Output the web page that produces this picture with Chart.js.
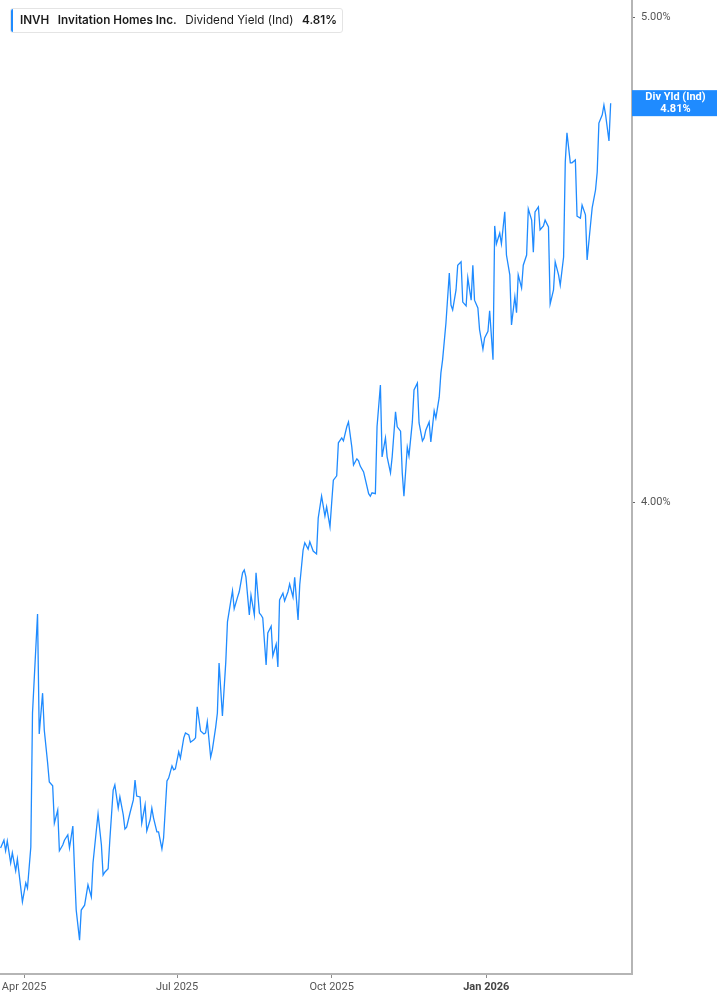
<!DOCTYPE html>
<html>
<head>
<meta charset="utf-8">
<title>INVH Dividend Yield</title>
<script src="https://cdn.jsdelivr.net/npm/chart.js@4.4.1/dist/chart.umd.min.js"></script>
<style>
    html, body { margin: 0; padding: 0; background: #fff; }
    #wrap { position: relative; width: 717px; height: 1005px; }
    #legend {
        position: absolute; left: 10px; top: 8px; width: 331px; height: 23px;
        box-sizing: content-box; padding: 0;
        border: 1px solid #e4e4e4; border-radius: 3px; background: #fff;
        font-family: Inter, "Noto Sans", sans-serif; font-size: 11.7px; color: #1c1c1c;
        line-height: 23px; white-space: nowrap; overflow: hidden;
        display: flex; gap: 8.5px; padding-left: 9px; width: 322px;
    }
    #legend::before {
        content: ''; position: absolute; left: -1px; top: -1px; bottom: -1px; width: 3px;
        background: #1f8bff; border-radius: 3px 0 0 3px;
    }
    .b { font-weight: 600; }
</style>
</head>
<body>
<div id="wrap">
    <canvas id="yieldChart"></canvas>
    <div id="legend">
        <span class="b" id="lgTicker"></span>
        <span class="b" id="lgName"></span>
        <span id="lgMetric"></span>
        <span class="b" id="lgValue"></span>
    </div>
</div>
<script>
// Series: trading dates and indicated dividend yield (%)
const dates = [
    '2025-03-18','2025-03-20','2025-03-21','2025-03-22','2025-03-24','2025-03-25','2025-03-27','2025-03-28','2025-03-31',
    '2025-04-02','2025-04-03','2025-04-05','2025-04-06','2025-04-09','2025-04-10','2025-04-12','2025-04-13','2025-04-15',
    '2025-04-16','2025-04-18','2025-04-19','2025-04-21','2025-04-22','2025-04-24','2025-04-25','2025-04-27','2025-04-28',
    '2025-04-30','2025-05-01','2025-05-02','2025-05-04','2025-05-05','2025-05-07','2025-05-09','2025-05-11','2025-05-12',
    '2025-05-14','2025-05-15','2025-05-17','2025-05-18','2025-05-19','2025-05-21','2025-05-22','2025-05-24','2025-05-25',
    '2025-05-27','2025-05-28','2025-05-30','2025-05-31','2025-06-01','2025-06-03','2025-06-05','2025-06-06','2025-06-07',
    '2025-06-09','2025-06-10','2025-06-12','2025-06-13','2025-06-15','2025-06-16','2025-06-17','2025-06-19','2025-06-20',
    '2025-06-22','2025-06-23','2025-06-25','2025-06-26','2025-06-28','2025-06-29','2025-06-30','2025-07-02','2025-07-03',
    '2025-07-05','2025-07-06','2025-07-08','2025-07-09','2025-07-11','2025-07-12','2025-07-13','2025-07-15','2025-07-17',
    '2025-07-18','2025-07-19','2025-07-21','2025-07-22','2025-07-24','2025-07-25','2025-07-26','2025-07-28','2025-07-30',
    '2025-07-31','2025-08-02','2025-08-03','2025-08-04','2025-08-06','2025-08-07','2025-08-09','2025-08-10','2025-08-11',
    '2025-08-13','2025-08-14','2025-08-16','2025-08-17','2025-08-19','2025-08-20','2025-08-21','2025-08-23','2025-08-24',
    '2025-08-26','2025-08-27','2025-08-29','2025-08-30','2025-08-31','2025-09-02','2025-09-03','2025-09-05','2025-09-06',
    '2025-09-08','2025-09-09','2025-09-11','2025-09-12','2025-09-14','2025-09-15','2025-09-17','2025-09-18','2025-09-20',
    '2025-09-22','2025-09-23','2025-09-25','2025-09-27','2025-09-28','2025-09-30','2025-10-01','2025-10-02','2025-10-04',
    '2025-10-05','2025-10-07','2025-10-08','2025-10-10','2025-10-11','2025-10-13','2025-10-14','2025-10-16','2025-10-17',
    '2025-10-18','2025-10-20','2025-10-21','2025-10-23','2025-10-24','2025-10-25','2025-10-27','2025-10-28','2025-10-30',
    '2025-10-31','2025-11-02','2025-11-03','2025-11-05','2025-11-06','2025-11-08','2025-11-09','2025-11-11','2025-11-12',
    '2025-11-13','2025-11-15','2025-11-16','2025-11-18','2025-11-19','2025-11-21','2025-11-22','2025-11-24','2025-11-25',
    '2025-11-26','2025-11-28','2025-11-29','2025-12-01','2025-12-02','2025-12-04','2025-12-05','2025-12-06','2025-12-08',
    '2025-12-10','2025-12-11','2025-12-12','2025-12-14','2025-12-15','2025-12-17','2025-12-18','2025-12-20','2025-12-21',
    '2025-12-23','2025-12-24','2025-12-25','2025-12-27','2025-12-28','2025-12-30','2025-12-31','2026-01-02','2026-01-03',
    '2026-01-05','2026-01-06','2026-01-07','2026-01-09','2026-01-10','2026-01-12','2026-01-13','2026-01-15','2026-01-16',
    '2026-01-18','2026-01-19','2026-01-20','2026-01-22','2026-01-23','2026-01-25','2026-01-26','2026-01-28','2026-01-29',
    '2026-01-30','2026-02-01','2026-02-02','2026-02-04','2026-02-05','2026-02-07','2026-02-08','2026-02-10','2026-02-11',
    '2026-02-13','2026-02-14','2026-02-16','2026-02-17','2026-02-18','2026-02-20','2026-02-21','2026-02-23','2026-02-24',
    '2026-02-26','2026-02-27','2026-03-01','2026-03-02','2026-03-04','2026-03-05','2026-03-07','2026-03-08','2026-03-09',
    '2026-03-11','2026-03-12','2026-03-13','2026-03-15','2026-03-16'
];

const yieldPct = [
    3.288, 3.304, 3.282, 3.302, 3.257, 3.278, 3.241, 3.265, 3.177,
    3.216, 3.205, 3.290, 3.566, 3.770, 3.523, 3.607, 3.531, 3.463,
    3.424, 3.416, 3.339, 3.366, 3.282, 3.294, 3.304, 3.315, 3.288,
    3.333, 3.243, 3.160, 3.098, 3.160, 3.170, 3.212, 3.187, 3.257,
    3.325, 3.358, 3.294, 3.232, 3.238, 3.245, 3.304, 3.407, 3.418,
    3.370, 3.393, 3.356, 3.327, 3.331, 3.360, 3.387, 3.428, 3.395,
    3.393, 3.339, 3.377, 3.323, 3.346, 3.370, 3.350, 3.321, 3.321,
    3.286, 3.309, 3.426, 3.432, 3.457, 3.449, 3.451, 3.486, 3.473,
    3.515, 3.525, 3.521, 3.506, 3.511, 3.515, 3.579, 3.529, 3.523,
    3.525, 3.548, 3.475, 3.490, 3.537, 3.566, 3.669, 3.560, 3.671,
    3.754, 3.797, 3.818, 3.781, 3.805, 3.816, 3.855, 3.861, 3.846,
    3.768, 3.809, 3.768, 3.855, 3.772, 3.768, 3.762, 3.665, 3.731,
    3.745, 3.684, 3.708, 3.661, 3.799, 3.813, 3.797, 3.816, 3.832,
    3.805, 3.846, 3.758, 3.830, 3.902, 3.917, 3.904, 3.919, 3.900,
    3.894, 3.968, 4.013, 3.972, 3.991, 3.950, 3.999, 4.046, 4.055,
    4.123, 4.133, 4.127, 4.156, 4.166, 4.114, 4.077, 4.090, 4.086,
    4.075, 4.063, 4.048, 4.018, 4.013, 4.020, 4.018, 4.156, 4.242,
    4.094, 4.133, 4.094, 4.061, 4.094, 4.187, 4.156, 4.147, 4.061,
    4.013, 4.114, 4.096, 4.166, 4.232, 4.246, 4.164, 4.127, 4.133,
    4.149, 4.166, 4.125, 4.189, 4.174, 4.217, 4.267, 4.294, 4.370,
    4.473, 4.407, 4.397, 4.438, 4.489, 4.496, 4.413, 4.405, 4.463,
    4.417, 4.489, 4.417, 4.401, 4.356, 4.316, 4.339, 4.353, 4.395,
    4.294, 4.570, 4.533, 4.555, 4.533, 4.599, 4.510, 4.469, 4.366,
    4.424, 4.391, 4.469, 4.442, 4.489, 4.510, 4.605, 4.582, 4.516,
    4.599, 4.609, 4.562, 4.570, 4.582, 4.568, 4.409, 4.438, 4.496,
    4.469, 4.448, 4.506, 4.702, 4.762, 4.700, 4.700, 4.706, 4.590,
    4.586, 4.613, 4.593, 4.500, 4.572, 4.607, 4.644, 4.681, 4.782,
    4.799, 4.819, 4.799, 4.745, 4.823
];

// Axis ticks
const xTickDates = ['2025-04-01', '2025-07-01', '2025-10-01', '2026-01-01'];
const xTickLabels = ['Apr 2025', 'Jul 2025', 'Oct 2025', 'Jan 2026'];
const yTickValues = [4, 5];

// Header and end tag texts
const legendTexts = ['INVH', 'Invitation Homes Inc.', 'Dividend Yield (Ind)', '4.81%'];
const tagLines = ['Div Yld (Ind)', '4.81%'];

const LINE_COLOR = '#1f8bff';
const AXIS_COLOR = '#b5b5b5';
const TEXT_COLOR = '#555';
const ORIGIN = Date.UTC(2025, 3, 1);

// days since 1 Apr 2025
function dayNum(s) {
    const [y, m, d] = s.split('-').map(Number);
    return (Date.UTC(y, m - 1, d) - ORIGIN) / 864e5;
}

function fillLegend() {
    ['lgTicker', 'lgName', 'lgMetric', 'lgValue'].forEach((id, i) => {
        document.getElementById(id).textContent = legendTexts[i];
    });
}

// blue box on the right axis holding the latest value
const lastValueTag = {
    id: 'lastValueTag',
    afterDraw(chart) {
        const pts = chart.getDatasetMeta(0).data;
        const pt = pts[pts.length - 1];
        const { ctx, chartArea } = chart;
        const x0 = chartArea.right;
        const w = chart.width - x0;
        ctx.save();
        ctx.fillStyle = LINE_COLOR;
        ctx.fillRect(x0, pt.y - 13, w, 26);
        ctx.fillStyle = '#fff';
        ctx.font = 'bold 11px Roboto';
        ctx.textAlign = 'center';
        ctx.textBaseline = 'middle';
        ctx.fillText(tagLines[0], x0 + w / 2 + 1, pt.y - 5.5);
        ctx.fillText(tagLines[1], x0 + w / 2 + 1, pt.y + 6);
        ctx.restore();
    }
};

function initChart() {
    const ctx = document.getElementById('yieldChart').getContext('2d');
    const points = dates.map((d, i) => ({ x: dayNum(d), y: yieldPct[i] }));

    new Chart(ctx, {
        type: 'line',
        data: {
            datasets: [{
                label: legendTexts[2],
                data: points,
                borderColor: LINE_COLOR,
                borderWidth: 1.3,
                pointRadius: 0,
                tension: 0,
                fill: false
            }]
        },
        options: {
            responsive: true,
            maintainAspectRatio: false,
            animation: false,
            layout: { padding: 0 },
            plugins: {
                legend: { display: false },
                tooltip: { enabled: false }
            },
            scales: {
                x: {
                    type: 'linear',
                    min: -14.34,
                    max: 361.7,
                    grid: { drawOnChartArea: false, drawTicks: true, tickLength: 4, color: '#8c8c8c' },
                    border: { display: true, color: AXIS_COLOR, width: 2 },
                    afterBuildTicks: axis => {
                        axis.ticks = xTickDates.map(d => ({ value: dayNum(d) }));
                    },
                    afterFit: axis => {
                        axis.height = 31;
                        axis.paddingLeft = 0;
                        axis.paddingRight = 0;
                    },
                    ticks: {
                        autoSkip: false,
                        maxRotation: 0,
                        padding: 3,
                        callback: (v, i) => xTickLabels[i],
                        color: c => (c.index === 3 ? '#444' : TEXT_COLOR),
                        font: c => ({ family: 'Roboto', size: 11, weight: c.index === 3 ? 'bold' : 'normal' })
                    }
                },
                y: {
                    position: 'right',
                    min: 3.0282,
                    max: 5.0356,
                    grid: { drawOnChartArea: false, drawTicks: true, tickLength: 3, color: '#666' },
                    border: { display: true, color: AXIS_COLOR, width: 2 },
                    afterBuildTicks: axis => {
                        axis.ticks = yTickValues.map(v => ({ value: v }));
                    },
                    afterFit: axis => {
                        axis.width = 85;
                        axis.paddingTop = 0;
                        axis.paddingBottom = 0;
                    },
                    ticks: {
                        padding: 6,
                        color: TEXT_COLOR,
                        font: { family: 'Roboto', size: 11 },
                        callback: v => v.toFixed(2) + '%'
                    }
                }
            }
        },
        plugins: [lastValueTag]
    });
}

fillLegend();
initChart();
</script>
</body>
</html>
